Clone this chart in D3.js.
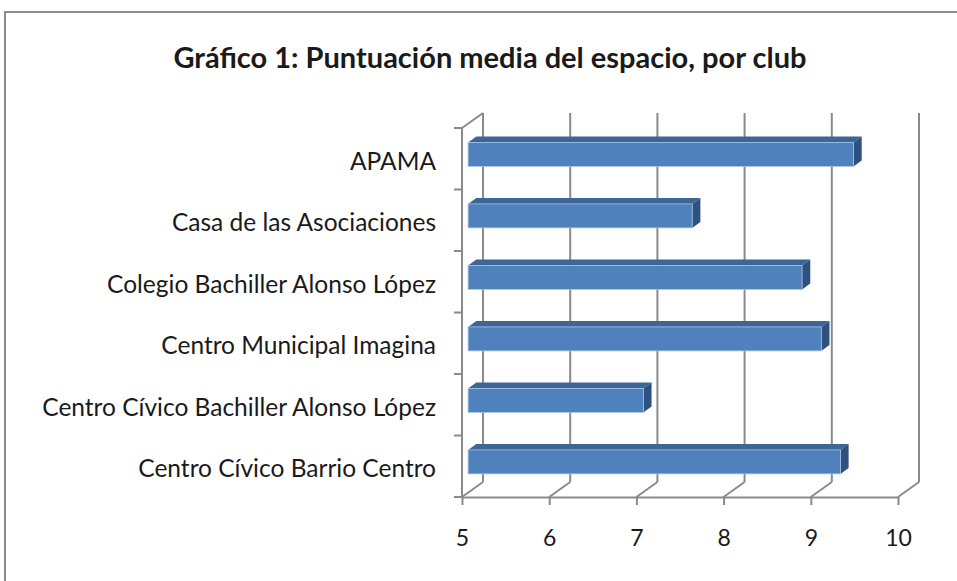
<!DOCTYPE html>
<html>
<head>
<meta charset="utf-8">
<script src="https://cdn.jsdelivr.net/npm/d3@7"></script>
<style>
  body { margin: 0; background: #fff; }
  svg text { font-family: Lato, "Open Sans", sans-serif; fill: #1a1a1a; }
</style>
</head>
<body>
<div id="chart"></div>
<script>
// data, bottom category first (as Excel draws a bar chart)
const title = "Gráfico 1: Puntuación media del espacio, por club";
const categories = [
  "Centro Cívico Barrio Centro",
  "Centro Cívico Bachiller Alonso López",
  "Centro Municipal Imagina",
  "Colegio Bachiller Alonso López",
  "Casa de las Asociaciones",
  "APAMA"
];
const scores = [9.27, 7.01, 9.05, 8.83, 7.57, 9.42];
const xTicks = [5, 6, 7, 8, 9, 10];

const width = 957, height = 581;
const depth = [21, -15];      // wall depth offset
const barFront = 0.29;        // where the bar front sits inside the depth
const barDepth = 0.39;        // how deep the bar is

const svg = d3.select("#chart").append("svg")
  .attr("width", width)
  .attr("height", height);

// outer frame
svg.append("rect")
  .attr("x", 5).attr("y", 12)
  .attr("width", 980).attr("height", 600)
  .attr("fill", "none")
  .attr("stroke", "#8c8c8c")
  .attr("stroke-width", 2);

svg.append("text")
  .attr("x", 490).attr("y", 56)
  .attr("text-anchor", "middle")
  .attr("dominant-baseline", "central")
  .style("font-size", "29px")
  .style("font-weight", "bold")
  .text(title);

const x = d3.scaleLinear().domain([5, 10]).range([462, 898]);
const y = d3.scaleBand()
  .domain(categories.slice().reverse())
  .range([128, 497])
  .paddingInner(0);

const plotTop = y.range()[0], plotBottom = y.range()[1];
const gridColor = "#8a8a8a";

// back wall gridlines
svg.append("g").selectAll("line")
  .data(xTicks)
  .join("line")
  .attr("x1", d => x(d) + depth[0]).attr("x2", d => x(d) + depth[0])
  .attr("y1", plotTop + depth[1]).attr("y2", plotBottom + depth[1])
  .attr("stroke", gridColor).attr("stroke-width", 2);

// floor diagonals
svg.append("g").selectAll("line")
  .data(xTicks)
  .join("line")
  .attr("x1", d => x(d)).attr("x2", d => x(d) + depth[0])
  .attr("y1", plotBottom).attr("y2", plotBottom + depth[1])
  .attr("stroke", gridColor).attr("stroke-width", 2);

// left wall top edge
svg.append("line")
  .attr("x1", x(5)).attr("y1", plotTop)
  .attr("x2", x(5) + depth[0]).attr("y2", plotTop + depth[1])
  .attr("stroke", gridColor).attr("stroke-width", 2);

// bars
const thick = y.bandwidth() * 0.39;
const fx = depth[0] * barFront, fy = depth[1] * barFront;
const bx = depth[0] * barDepth, by = depth[1] * barDepth;

const bars = svg.append("g").selectAll("g")
  .data(categories.map((c, i) => ({ name: c, value: scores[i] })))
  .join("g");

function frontBox(d) {
  const x0 = x(5) + fx, x1 = x(d.value) + fx;
  const y0 = y(d.name) + y.bandwidth() / 2 - thick / 2 + fy;
  return { x0, x1, y0, y1: y0 + thick };
}

// top face
bars.append("path")
  .attr("d", d => {
    const b = frontBox(d);
    return `M${b.x0},${b.y0}L${b.x0 + bx},${b.y0 + by}L${b.x1 + bx},${b.y0 + by}L${b.x1},${b.y0}Z`;
  })
  .attr("fill", "#3d6596");

// side face
bars.append("path")
  .attr("d", d => {
    const b = frontBox(d);
    return `M${b.x1},${b.y0}L${b.x1 + bx},${b.y0 + by}L${b.x1 + bx},${b.y1 + by}L${b.x1},${b.y1}Z`;
  })
  .attr("fill", "#2f5180");

// front face
bars.append("rect")
  .attr("x", d => frontBox(d).x0)
  .attr("y", d => frontBox(d).y0)
  .attr("width", d => frontBox(d).x1 - frontBox(d).x0)
  .attr("height", thick)
  .attr("fill", "#4f81bd")
  .attr("stroke", "#a9c4e6")
  .attr("stroke-width", 0.8);

// category axis
svg.append("line")
  .attr("x1", x(5)).attr("x2", x(5))
  .attr("y1", plotTop).attr("y2", plotBottom)
  .attr("stroke", gridColor).attr("stroke-width", 2);

const bounds = categories.map(c => y(c)).concat([plotBottom]);
svg.append("g").selectAll("line")
  .data(bounds)
  .join("line")
  .attr("x1", x(5) - 8).attr("x2", x(5))
  .attr("y1", d => d).attr("y2", d => d)
  .attr("stroke", gridColor).attr("stroke-width", 2);

svg.append("g").selectAll("text")
  .data(categories)
  .join("text")
  .attr("x", 436)
  .attr("y", d => y(d) + y.bandwidth() / 2 + 1.5)
  .attr("text-anchor", "end")
  .attr("dominant-baseline", "central")
  .style("font-size", "24.5px")
  .text(d => d);

// value axis
const xAxis = svg.append("g")
  .attr("transform", `translate(0,${plotBottom})`)
  .call(d3.axisBottom(x).tickValues(xTicks).tickFormat(d3.format("d"))
    .tickSize(8).tickSizeOuter(0).tickPadding(25));

xAxis.select(".domain").attr("stroke", gridColor).attr("stroke-width", 2);
xAxis.selectAll(".tick line").attr("stroke", gridColor).attr("stroke-width", 2);
xAxis.selectAll(".tick text")
  .style("font-size", "23px")
  .style("font-family", "Lato, sans-serif")
  .attr("fill", "#1a1a1a");
</script>
</body>
</html>
